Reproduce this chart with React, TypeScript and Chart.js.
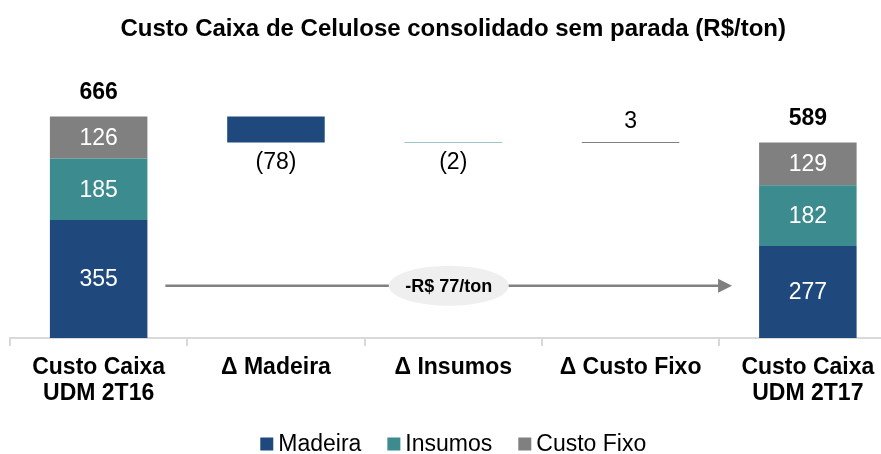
import React, { useEffect, useRef } from 'react';
import { Chart, registerables } from 'chart.js';

Chart.register(...registerables);

const chartTitle = 'Custo Caixa de Celulose consolidado sem parada (R$/ton)';
const categories: (string | string[])[] = [
  ['Custo Caixa', 'UDM 2T16'],
  'Δ Madeira',
  'Δ Insumos',
  'Δ Custo Fixo',
  ['Custo Caixa', 'UDM 2T17'],
];
const seriesNames = ['Madeira', 'Insumos', 'Custo Fixo'];
const seriesColors = ['#1F497D', '#3B8B8F', '#808080'];
const madeira = [355, null, null, null, 277];
const insumos = [185, null, null, null, 182];
const custoFixo = [126, null, null, null, 129];
const totals = [666, null, null, null, 589];
const deltas = [null, -78, -2, 3, null];
const arrowLabel = '-R$ 77/ton';
const arrowLevel = 157;

const FONT = '"Liberation Sans", Arial, sans-serif';

function buildFloating() {
  let running = totals[0] as number;
  return deltas.map((d) => {
    if (d == null) return null;
    const start = running;
    running = running + d;
    return [Math.min(start, running), Math.max(start, running)];
  });
}

const labelsPlugin = {
  id: 'customLabels',
  afterDatasetsDraw(chart: any) {
    const ctx = chart.ctx as CanvasRenderingContext2D;
    const yScale = chart.scales.y;
    ctx.save();
    ctx.textAlign = 'center';
    ctx.textBaseline = 'middle';
    // segment labels
    for (let d = 0; d < 3; d++) {
      const meta = chart.getDatasetMeta(d);
      meta.data.forEach((el: any, i: number) => {
        const v = chart.data.datasets[d].data[i];
        if (v == null) return;
        const p = el.getProps(['x', 'y', 'base'], true);
        ctx.fillStyle = '#ffffff';
        ctx.font = `23px ${FONT}`;
        ctx.fillText(String(v), p.x, (p.y + p.base) / 2 + 1);
      });
    }
    // totals
    const meta0 = chart.getDatasetMeta(0);
    const metaTop = chart.getDatasetMeta(2);
    totals.forEach((t, i) => {
      if (t == null) return;
      const x = meta0.data[i].x;
      const y = metaTop.data[i].y;
      ctx.fillStyle = '#000000';
      ctx.font = `bold 23px ${FONT}`;
      ctx.fillText(String(t), x, y - 24);
    });
    // delta labels
    const metaD = chart.getDatasetMeta(3);
    deltas.forEach((d, i) => {
      if (d == null) return;
      const p = metaD.data[i].getProps(['x', 'y', 'base'], true);
      const top = Math.min(p.y, p.base);
      const bottom = Math.max(p.y, p.base);
      ctx.fillStyle = '#000000';
      ctx.font = `23px ${FONT}`;
      if (d < 0) ctx.fillText(`(${Math.abs(d)})`, p.x, bottom + 20);
      else ctx.fillText(String(d), p.x, top - 20);
    });
    // arrow
    const b0 = meta0.data[0];
    const b4 = meta0.data[4];
    const x0 = b0.x + b0.width / 2 + 18;
    const x1 = b4.x - b4.width / 2 - 27;
    const ay = yScale.getPixelForValue(arrowLevel);
    ctx.strokeStyle = '#808080';
    ctx.lineWidth = 2.5;
    ctx.beginPath();
    ctx.moveTo(x0, ay);
    ctx.lineTo(x1 - 12, ay);
    ctx.stroke();
    ctx.fillStyle = '#808080';
    ctx.beginPath();
    ctx.moveTo(x1 - 14, ay - 7);
    ctx.lineTo(x1, ay);
    ctx.lineTo(x1 - 14, ay + 7);
    ctx.closePath();
    ctx.fill();
    const mx = (x0 + x1) / 2;
    ctx.fillStyle = '#EFEFEF';
    ctx.beginPath();
    ctx.ellipse(mx, ay, 60, 20, 0, 0, Math.PI * 2);
    ctx.fill();
    ctx.fillStyle = '#000000';
    ctx.font = `bold 18px ${FONT}`;
    ctx.fillText(arrowLabel, mx, ay + 1);
    ctx.restore();
  },
  afterDraw(chart: any) {
    const ctx = chart.ctx as CanvasRenderingContext2D;
    const area = chart.chartArea;
    ctx.save();
    ctx.font = `23px ${FONT}`;
    ctx.textBaseline = 'middle';
    ctx.textAlign = 'left';
    const box = 13;
    const gap = 5;
    const spacing = 26;
    const widths = seriesNames.map((n) => ctx.measureText(n).width);
    const total = widths.reduce((a, w) => a + box + gap + w, 0) + spacing * (seriesNames.length - 1);
    let x = (area.left + area.right) / 2 - total / 2;
    const y = 444;
    seriesNames.forEach((n, i) => {
      ctx.fillStyle = seriesColors[i];
      ctx.fillRect(x, y - box / 2, box, box);
      x += box + gap;
      ctx.fillStyle = '#000000';
      ctx.fillText(n, x, y + 1);
      x += widths[i] + spacing;
    });
    ctx.restore();
  },
};

export default function App() {
  const ref = useRef<HTMLCanvasElement | null>(null);
  useEffect(() => {
    if (!ref.current) return;
    Chart.defaults.font.family = FONT;
    const floating = buildFloating();
    const chart = new Chart(ref.current, {
      type: 'bar',
      data: {
        labels: categories as any,
        datasets: [
          { label: seriesNames[0], data: madeira as any, backgroundColor: seriesColors[0] },
          { label: seriesNames[1], data: insumos as any, backgroundColor: seriesColors[1] },
          { label: seriesNames[2], data: custoFixo as any, backgroundColor: seriesColors[2] },
          {
            label: 'Δ',
            data: floating as any,
            backgroundColor: [null, seriesColors[0], seriesColors[1], seriesColors[2], null] as any,
          },
        ],
      },
      options: {
        responsive: false,
        animation: false,
        devicePixelRatio: 1,
        datasets: { bar: { categoryPercentage: 1, barPercentage: 0.55, grouped: false } },
        layout: { padding: { left: 10, right: 3.5, top: 0, bottom: 38 } },
        plugins: {
          legend: { display: false },
          tooltip: { enabled: false },
          title: {
            display: true,
            text: chartTitle,
            color: '#000000',
            font: { size: 24, weight: 'bold', family: FONT },
            padding: { top: 14.6, bottom: 28.5 },
          },
        },
        scales: {
          x: {
            stacked: true,
            offset: true,
            border: { display: true, color: '#D9D9D9', width: 2 },
            grid: { display: true, offset: true, drawOnChartArea: false, drawTicks: true, tickLength: 8, color: '#D9D9D9', lineWidth: 2 },
            ticks: { color: '#000000', padding: 9, maxRotation: 0, autoSkip: false, font: { size: 23, weight: 'bold', family: FONT, lineHeight: 1.13 } },
          },
          y: { stacked: true, display: false, min: 0, max: 800 },
        },
      },
      plugins: [labelsPlugin],
    });
    return () => chart.destroy();
  }, []);
  return (
    <div style={{ position: 'fixed', left: 0, top: 0, width: 881, height: 454, overflow: 'hidden', background: '#fff' }}>
      <canvas ref={ref} width={900} height={454} style={{ display: 'block' }} />
    </div>
  );
}
